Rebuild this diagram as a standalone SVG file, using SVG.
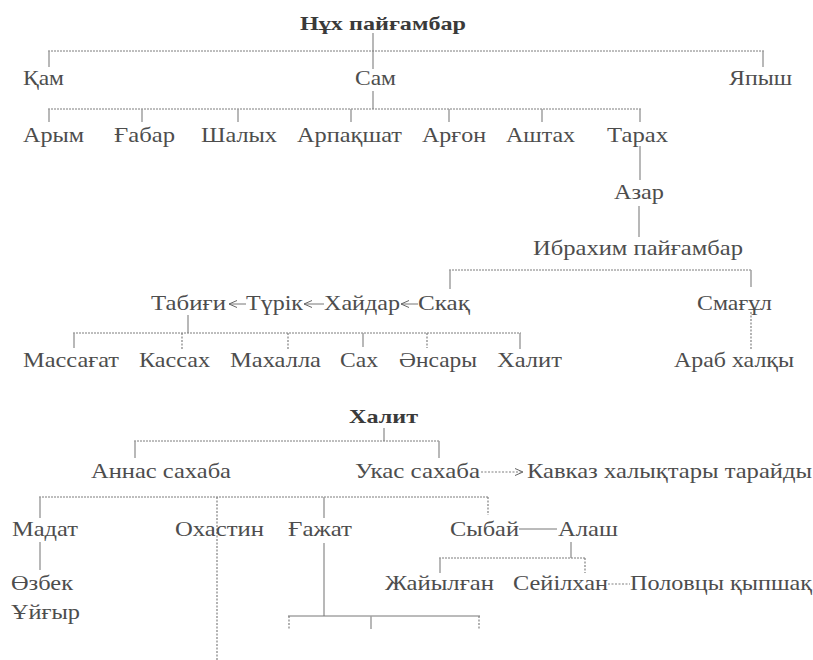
<svg xmlns="http://www.w3.org/2000/svg" width="813" height="660" viewBox="0 0 813 660">
<defs>
<style>
text{font-family:"Liberation Serif","Times New Roman",serif;font-size:21px;fill:#4d4d4d}
.b{font-weight:bold;font-size:19px;fill:#3a3a3a}
.h{stroke:#7c7c7c;stroke-width:1;stroke-dasharray:2 1;fill:none}
.v{stroke:#a0a0a0;stroke-width:1.5;fill:none}
.d{stroke:#808080;stroke-width:1.2;stroke-dasharray:2 1.5;fill:none}
.a{stroke:#777;stroke-width:1;fill:none}
</style>
<marker id="ah" viewBox="0 0 8 8" refX="8" refY="4" markerWidth="8" markerHeight="8" markerUnits="userSpaceOnUse" orient="auto">
<path d="M0,0.5 L8,4 L0,7.5" fill="none" stroke="#666" stroke-width="1"/>
</marker>
</defs>
<rect width="813" height="660" fill="#fff"/>
<g id="connectors">
<line class="v" x1="373" y1="33" x2="373" y2="69"/>
<line class="h" x1="48" y1="51" x2="764" y2="51"/>
<line class="v" x1="49" y1="51" x2="49" y2="67"/>
<line class="v" x1="763" y1="51" x2="763" y2="67"/>
<line class="v" x1="373" y1="91" x2="373" y2="109"/>
<line class="h" x1="48" y1="109" x2="641" y2="109"/>
<line class="v" x1="49" y1="109" x2="49" y2="122"/>
<line class="v" x1="142" y1="109" x2="142" y2="122"/>
<line class="v" x1="238" y1="109" x2="238" y2="122"/>
<line class="v" x1="351" y1="109" x2="351" y2="122"/>
<line class="v" x1="449" y1="109" x2="449" y2="122"/>
<line class="v" x1="542" y1="109" x2="542" y2="122"/>
<line class="v" x1="640" y1="109" x2="640" y2="122"/>
<line class="v" x1="640" y1="146" x2="640" y2="180"/>
<line class="v" x1="639" y1="206" x2="639" y2="237"/>
<line class="h" x1="449" y1="270" x2="752" y2="270"/>
<line class="v" x1="450" y1="270" x2="450" y2="289"/>
<line class="v" x1="751" y1="270" x2="751" y2="287"/>
<line class="a" x1="246" y1="304" x2="229" y2="304" marker-end="url(#ah)"/>
<line class="a" x1="324" y1="304" x2="304" y2="304" marker-end="url(#ah)"/>
<line class="a" x1="418" y1="304" x2="401" y2="304" marker-end="url(#ah)"/>
<line class="d" x1="751" y1="312" x2="751" y2="350"/>
<line class="v" x1="188" y1="315" x2="188" y2="333"/>
<line class="h" x1="73" y1="333" x2="521" y2="333"/>
<line class="v" x1="74" y1="333" x2="74" y2="348"/>
<line class="d" x1="182" y1="333" x2="182" y2="350"/>
<line class="d" x1="288" y1="333" x2="288" y2="350"/>
<line class="v" x1="363" y1="333" x2="363" y2="347"/>
<line class="d" x1="427" y1="333" x2="427" y2="348"/>
<line class="v" x1="520" y1="333" x2="520" y2="349"/>
<line class="v" x1="384" y1="428" x2="384" y2="441"/>
<line class="h" x1="134" y1="441" x2="439" y2="441"/>
<line class="v" x1="135" y1="441" x2="135" y2="458"/>
<line class="v" x1="439" y1="441" x2="439" y2="458"/>
<line class="d" x1="481" y1="472" x2="523" y2="472" marker-end="url(#ah)"/>
<line class="h" x1="39" y1="497" x2="488" y2="497"/>
<line class="v" x1="40" y1="497" x2="40" y2="518"/>
<line class="d" x1="217" y1="497" x2="217" y2="660"/>
<line class="v" x1="324" y1="497" x2="324" y2="518"/>
<line class="d" x1="488" y1="497" x2="488" y2="515"/>
<line class="a" x1="519" y1="529" x2="557" y2="529"/>
<line class="v" x1="40" y1="542" x2="40" y2="570"/>
<line class="v" x1="571" y1="542" x2="571" y2="558"/>
<line class="h" x1="439" y1="558" x2="586" y2="558"/>
<line class="v" x1="440" y1="558" x2="440" y2="573"/>
<line class="d" x1="585" y1="558" x2="585" y2="573"/>
<line class="v" x1="324" y1="543" x2="324" y2="616"/>
<line class="d" x1="608" y1="584" x2="630" y2="584"/>
<line class="a" x1="288" y1="616" x2="480" y2="616"/>
<line class="d" x1="289" y1="616" x2="289" y2="629"/>
<line class="v" x1="371" y1="616" x2="371" y2="629"/>
<line class="d" x1="479" y1="616" x2="479" y2="629"/>
</g>
<g id="n-nukh"><text class="b" x="300" y="30" textLength="166" lengthAdjust="spacingAndGlyphs">Нұх пайғамбар</text></g>
<g id="n-kam"><text x="23" y="85" textLength="41" lengthAdjust="spacingAndGlyphs">Қам</text></g>
<g id="n-sam"><text x="355" y="85" textLength="41" lengthAdjust="spacingAndGlyphs">Сам</text></g>
<g id="n-yapysh"><text x="729" y="85" textLength="63" lengthAdjust="spacingAndGlyphs">Япыш</text></g>
<g id="n-arym"><text x="23" y="142" textLength="61" lengthAdjust="spacingAndGlyphs">Арым</text></g>
<g id="n-gabar"><text x="114" y="142" textLength="61" lengthAdjust="spacingAndGlyphs">Ғабар</text></g>
<g id="n-shalykh"><text x="201" y="142" textLength="76" lengthAdjust="spacingAndGlyphs">Шалых</text></g>
<g id="n-arpakshat"><text x="297" y="142" textLength="105" lengthAdjust="spacingAndGlyphs">Арпақшат</text></g>
<g id="n-argon"><text x="422" y="142" textLength="64" lengthAdjust="spacingAndGlyphs">Арғон</text></g>
<g id="n-ashtakh"><text x="506" y="142" textLength="69" lengthAdjust="spacingAndGlyphs">Аштах</text></g>
<g id="n-tarakh"><text x="607" y="142" textLength="61" lengthAdjust="spacingAndGlyphs">Тарах</text></g>
<g id="n-azar"><text x="614" y="199" textLength="50" lengthAdjust="spacingAndGlyphs">Азар</text></g>
<g id="n-ibrakhim"><text x="533" y="255" textLength="210" lengthAdjust="spacingAndGlyphs">Ибрахим пайғамбар</text></g>
<g id="n-tabigi"><text x="151" y="310" textLength="75" lengthAdjust="spacingAndGlyphs">Табиғи</text></g>
<g id="n-turik"><text x="246" y="310" textLength="57" lengthAdjust="spacingAndGlyphs">Түрік</text></g>
<g id="n-khaidar"><text x="324" y="310" textLength="76" lengthAdjust="spacingAndGlyphs">Хайдар</text></g>
<g id="n-skak"><text x="418" y="310" textLength="52" lengthAdjust="spacingAndGlyphs">Скақ</text></g>
<g id="n-smagul"><text x="697" y="310" textLength="75" lengthAdjust="spacingAndGlyphs">Смағұл</text></g>
<g id="n-massagat"><text x="23" y="367" textLength="96" lengthAdjust="spacingAndGlyphs">Массағат</text></g>
<g id="n-kassakh"><text x="139" y="367" textLength="71" lengthAdjust="spacingAndGlyphs">Кассах</text></g>
<g id="n-makhalla"><text x="230" y="367" textLength="91" lengthAdjust="spacingAndGlyphs">Махалла</text></g>
<g id="n-sakh"><text x="340" y="367" textLength="38" lengthAdjust="spacingAndGlyphs">Сах</text></g>
<g id="n-ansary"><text x="399" y="367" textLength="78" lengthAdjust="spacingAndGlyphs">Әнсары</text></g>
<g id="n-khalit1"><text x="497" y="367" textLength="65" lengthAdjust="spacingAndGlyphs">Халит</text></g>
<g id="n-arab"><text x="674" y="367" textLength="120" lengthAdjust="spacingAndGlyphs">Араб халқы</text></g>
<g id="n-khalit"><text class="b" x="349" y="423" textLength="69" lengthAdjust="spacingAndGlyphs">Халит</text></g>
<g id="n-annas"><text x="91" y="478" textLength="140" lengthAdjust="spacingAndGlyphs">Аннас сахаба</text></g>
<g id="n-ukas"><text x="355" y="478" textLength="125" lengthAdjust="spacingAndGlyphs">Укас сахаба</text></g>
<g id="n-kavkaz"><text x="527" y="478" textLength="285" lengthAdjust="spacingAndGlyphs">Кавказ халықтары тарайды</text></g>
<g id="n-madat"><text x="12" y="536" textLength="66" lengthAdjust="spacingAndGlyphs">Мадат</text></g>
<g id="n-okhastin"><text x="175" y="536" textLength="89" lengthAdjust="spacingAndGlyphs">Охастин</text></g>
<g id="n-gazhat"><text x="288" y="536" textLength="64" lengthAdjust="spacingAndGlyphs">Ғажат</text></g>
<g id="n-sybai"><text x="450" y="536" textLength="69" lengthAdjust="spacingAndGlyphs">Сыбай</text></g>
<g id="n-alash"><text x="558" y="536" textLength="60" lengthAdjust="spacingAndGlyphs">Алаш</text></g>
<g id="n-ozbek"><text x="11" y="590" textLength="62" lengthAdjust="spacingAndGlyphs">Өзбек</text></g>
<g id="n-uigyr"><text x="11" y="619" textLength="69" lengthAdjust="spacingAndGlyphs">Ұйғыр</text></g>
<g id="n-zhaiylgan"><text x="385" y="590" textLength="109" lengthAdjust="spacingAndGlyphs">Жайылған</text></g>
<g id="n-seiilkhan"><text x="513" y="590" textLength="95" lengthAdjust="spacingAndGlyphs">Сейілхан</text></g>
<g id="n-polovtsy"><text x="630" y="590" textLength="182" lengthAdjust="spacingAndGlyphs">Половцы қыпшақ</text></g>
</svg>
